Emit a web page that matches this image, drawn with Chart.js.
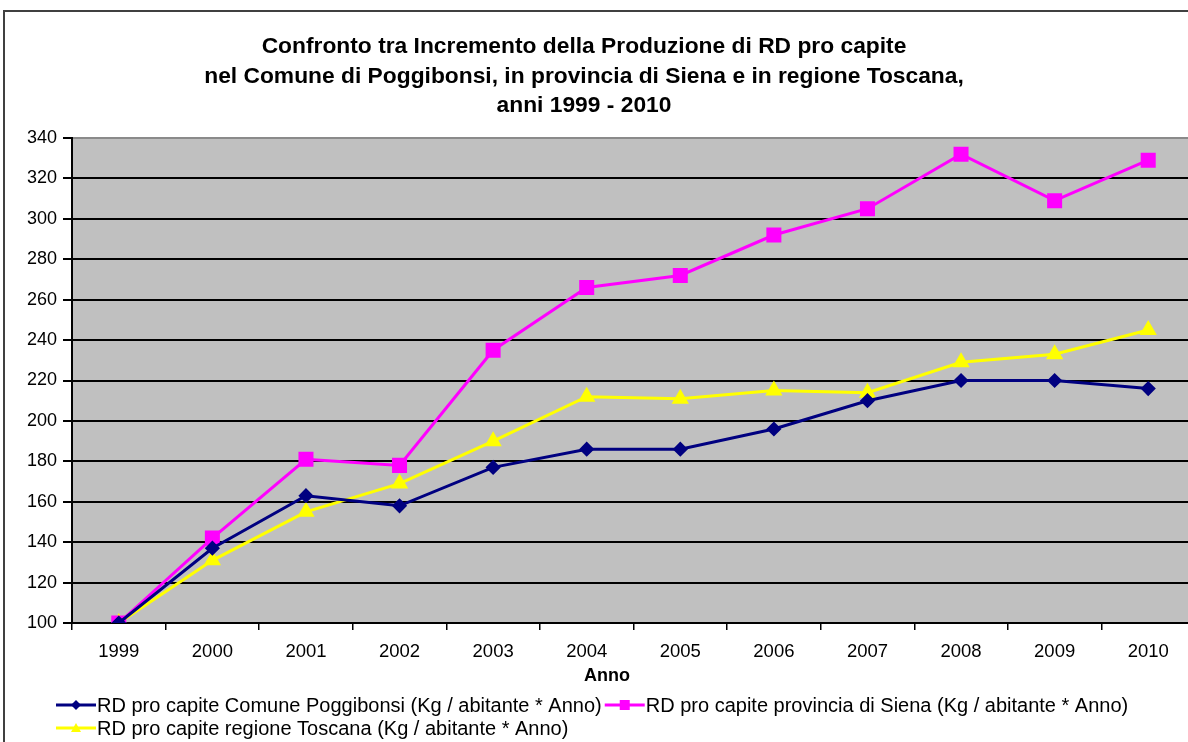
<!DOCTYPE html>
<html>
<head>
<meta charset="utf-8">
<script src="https://cdn.jsdelivr.net/npm/chart.js@4/dist/chart.umd.min.js"></script>
<style>
  html, body { margin: 0; padding: 0; background: #fff; overflow: hidden; }
  .frame { position: absolute; left: 3px; top: 10px; width: 1240px; height: 800px; border: 2px solid #404040; background: #fff; }
  #chart { display: block; }
</style>
</head>
<body>
<div class="frame">
  <canvas id="chart" width="1225" height="730"></canvas>
</div>
<script>
const anni = ['1999', '2000', '2001', '2002', '2003', '2004', '2005', '2006', '2007', '2008', '2009', '2010']

// RD pro capite (Kg / abitante * Anno)
const poggibonsi = [100, 137, 163, 158, 177, 186, 186, 196, 210, 220, 220, 216]
const siena      = [100, 142, 181, 178, 235, 266, 272, 292, 305, 332, 309, 329]
const toscana    = [100, 131, 155, 169, 190, 212, 211, 215, 214, 229, 233, 245]

const titolo = [
  'Confronto tra Incremento della Produzione di RD pro capite',
  'nel Comune di Poggibonsi, in provincia di Siena e in regione Toscana,',
  'anni 1999 - 2010'
]

const FONT = '"Liberation Sans", Arial, sans-serif'

// sfondo grigio dell'area del grafico
const plotBg = {
  id: 'plotBg',
  beforeDraw(chart) {
    const { ctx, chartArea: a } = chart
    ctx.save()
    ctx.fillStyle = '#c0c0c0'
    ctx.fillRect(a.left, a.top, a.right - a.left, a.bottom - a.top)
    ctx.restore()
  }
}

function marker(ctx, style, x, y, r) {
  ctx.beginPath()
  if (style === 'rect') {
    ctx.rect(x - r, y - r, 2 * r, 2 * r)
  } else if (style === 'rectRot') {
    ctx.moveTo(x, y - r); ctx.lineTo(x + r, y); ctx.lineTo(x, y + r); ctx.lineTo(x - r, y)
  } else {
    ctx.moveTo(x, y - r); ctx.lineTo(x + r, y + r * 0.8); ctx.lineTo(x - r, y + r * 0.8)
  }
  ctx.closePath()
  ctx.fill()
}

// titolo, titolo asse e legenda disegnati a mano
const testi = {
  id: 'testi',
  afterDraw(chart) {
    const ctx = chart.ctx
    ctx.save()
    ctx.fillStyle = '#000'
    ctx.textAlign = 'center'
    ctx.textBaseline = 'middle'
    ctx.font = 'bold 22.8px ' + FONT
    titolo.forEach((t, i) => ctx.fillText(t, 579, 35 + i * 29.5))

    ctx.font = 'bold 18px ' + FONT
    ctx.fillText('Anno', 602, 664)

    ctx.font = '20px ' + FONT
    ctx.textAlign = 'left'
    let x = 51, y = 693
    chart.data.datasets.forEach(ds => {
      const w = 41 + ctx.measureText(ds.label).width + 3
      if (x + w > 1170) { x = 51; y += 23 }
      ctx.strokeStyle = ds.borderColor
      ctx.lineWidth = 3
      ctx.beginPath(); ctx.moveTo(x, y); ctx.lineTo(x + 40, y); ctx.stroke()
      ctx.fillStyle = ds.pointBackgroundColor
      marker(ctx, ds.pointStyle, x + 20, y, 5)
      ctx.fillStyle = '#000'
      ctx.fillText(ds.label, x + 41, y + 1)
      x += w
    })
    ctx.restore()
  }
}

new Chart(document.getElementById('chart'), {
  type: 'line',
  data: {
    labels: anni,
    datasets: [{
      label: 'RD pro capite Comune Poggibonsi (Kg / abitante * Anno)',
      data: poggibonsi,
      borderColor: '#000080',
      pointBackgroundColor: '#000080',
      pointBorderColor: '#000080',
      pointStyle: 'rectRot',
      pointRadius: 5.5,
      borderWidth: 3
    }, {
      label: 'RD pro capite provincia di Siena (Kg / abitante * Anno)',
      data: siena,
      borderColor: '#ff00ff',
      pointBackgroundColor: '#ff00ff',
      pointBorderColor: '#ff00ff',
      pointStyle: 'rect',
      pointRadius: 8.5,
      borderWidth: 3
    }, {
      label: 'RD pro capite regione Toscana (Kg / abitante * Anno)',
      data: toscana,
      borderColor: '#ffff00',
      pointBackgroundColor: '#ffff00',
      pointBorderColor: '#ffff00',
      pointStyle: 'triangle',
      pointRadius: 7,
      borderWidth: 3
    }]
  },
  options: {
    responsive: false,
    animation: false,
    devicePixelRatio: 1,
    layout: { padding: { top: 126, right: 35, bottom: 79, left: 0 } },
    plugins: {
      legend: { display: false },
      title: { display: false },
      tooltip: { enabled: false }
    },
    scales: {
      x: {
        offset: true,
        afterFit: s => { s.height = 40 },
        grid: { display: true, drawOnChartArea: false, drawTicks: true, offset: true, tickLength: 7, color: '#000', lineWidth: 1.5 },
        border: { display: true, color: '#000', width: 2 },
        ticks: { color: '#000', padding: 11, font: { family: FONT, size: 18.5 }, maxRotation: 0 }
      },
      y: {
        min: 100,
        max: 340,
        afterFit: s => { s.width = 67 },
        grid: {
          color: c => (c.tick && c.tick.value === 340) ? '#8a8a8a' : '#000',
          lineWidth: 2,
          drawTicks: true,
          tickLength: 9,
          tickColor: '#000'
        },
        border: { display: true, color: '#000', width: 2 },
        ticks: { stepSize: 20, color: '#000', padding: 6, font: { family: FONT, size: 18 } }
      }
    }
  },
  plugins: [plotBg, testi]
})
</script>
</body>
</html>
